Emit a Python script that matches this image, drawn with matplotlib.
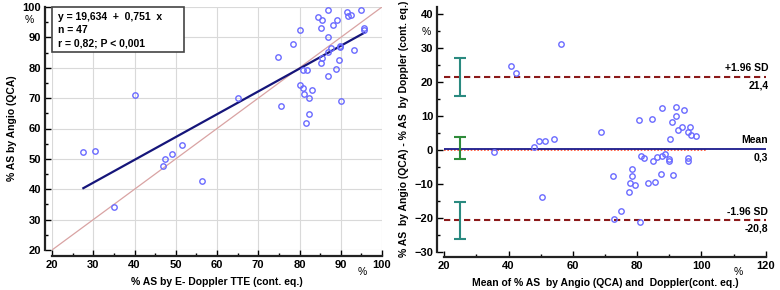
import matplotlib
matplotlib.use('Agg')
import matplotlib.pyplot as plt
from matplotlib.patches import Rectangle
import numpy as np

# left panel: % AS by Doppler (x) vs % AS by Angio (y)
doppler = [27.6, 30.5, 35.0, 47.0, 47.3, 49.2, 51.5, 56.4, 40.0, 65.0,
           74.8, 75.4, 78.5, 80.1, 80.0, 80.8, 81.8, 80.8, 81.1, 82.4,
           83.1, 82.4, 81.6, 84.5, 85.4, 85.2, 87.0, 88.2, 89.1, 86.9,
           87.6, 86.9, 85.5, 85.1, 89.5, 89.9, 89.7, 86.9, 88.9, 90.1,
           91.5, 91.7, 92.6, 94.8, 93.2, 95.7, 95.7]
angio = [52.1, 52.7, 34.3, 47.5, 49.8, 51.7, 54.6, 42.7, 70.9, 70.0,
         83.7, 67.5, 87.7, 92.4, 74.4, 79.1, 79.4, 73.3, 71.5, 70.0,
         72.6, 64.8, 61.8, 96.8, 95.6, 93.2, 98.9, 94.2, 95.8, 90.2,
         86.6, 85.2, 83.3, 81.7, 82.4, 86.8, 87.2, 77.4, 79.6, 69.1,
         98.2, 96.9, 97.4, 98.9, 85.9, 93.0, 92.4]
intercept = 19.634
slope = 0.751
stats_lines = ['y = 19,634  +  0,751  x', 'n = 47', 'r = 0,82; P < 0,001']

# right panel: Bland-Altman (mean, difference)
ba_mean = [40.8, 42.3, 56.4, 49.5, 51.2, 54.0, 47.9, 68.7, 80.7, 84.5,
           87.7, 92.1, 94.5, 92.1, 90.8, 92.7, 94.1, 96.4, 95.9, 96.8,
           98.4, 90.1, 35.4, 50.5, 81.2, 82.0, 84.8, 86.1, 87.6, 88.7,
           89.8, 89.9, 95.8, 95.8, 78.5, 78.3, 72.6, 87.5, 91.1, 77.7,
           79.2, 77.6, 83.5, 85.7, 74.9, 72.9, 81.0]
ba_diff = [24.5, 22.5, 30.9, 2.4, 2.4, 3.2, 0.8, 5.1, 8.8, 8.9,
           12.2, 12.4, 11.7, 9.9, 8.0, 5.8, 6.5, 6.5, 5.1, 4.4,
           3.9, 3.2, -0.6, -13.8, -1.8, -2.4, -3.4, -2.3, -1.9, -1.2,
           -2.7, -3.4, -2.6, -3.2, -5.7, -7.9, -7.9, -7.1, -7.4, -9.8,
           -10.5, -12.6, -9.7, -9.4, -17.9, -20.3, -21.3]
mean_diff = 0.3
upper_loa = 21.4
lower_loa = -20.8
upper_ci = (15.9, 26.8)
mean_ci = (-2.9, 3.6)
lower_ci = (-26.2, -15.3)

plt.rcParams['font.family'] = ['Liberation Sans', 'DejaVu Sans']
plt.rcParams['font.weight'] = 'bold'
plt.rcParams['axes.labelweight'] = 'bold'
plt.rcParams['font.size'] = 7.5

W, H = 780, 290
fig = plt.figure(figsize=(W / 100, H / 100), dpi=100)

pt_color = '#6b6bff'


def style_axes(ax):
    for s in ['top', 'right']:
        ax.spines[s].set_visible(False)
    ax.spines['left'].set_position(('outward', 5))
    ax.spines['bottom'].set_position(('outward', 4))
    for s in ['left', 'bottom']:
        ax.spines[s].set_linewidth(1.6)
        ax.spines[s].set_color('#222222')
    ax.tick_params(direction='in', length=4, width=1, pad=3, labelsize=8)
    ax.tick_params(which='minor', direction='in', length=2.5, width=1)


# ---- left panel: scatter + regression ----
ax1 = fig.add_axes([52 / W, 40 / H, 330 / W, 243 / H])
ax1.set_xlim(20, 100)
ax1.set_ylim(20, 100)
ax1.set_xticks(np.arange(20, 101, 10))
ax1.set_yticks(np.arange(20, 101, 10))
ax1.set_xticks(np.arange(25, 100, 10), minor=True)
ax1.set_yticks(np.arange(25, 100, 10), minor=True)
ax1.grid(True, color='#d9d9d9', linewidth=0.8)
ax1.set_axisbelow(True)
style_axes(ax1)

ax1.plot([20, 100], [20, 100], color='#d9a3a3', linewidth=0.9, zorder=2)
xr = np.array([min(doppler), max(doppler)])
ax1.plot(xr, intercept + slope * xr, color='#15157a', linewidth=1.6, zorder=3)
ax1.plot(doppler, angio, 'o', mfc='none', mec=pt_color, ms=3.9, mew=1.0, zorder=4)

# stats box
ax1.add_patch(Rectangle((0.0, 0.815), 0.4, 0.185, transform=ax1.transAxes,
                        fc='white', ec='#444444', lw=1.2, zorder=5, clip_on=False))
for i, line in enumerate(stats_lines):
    ax1.text(0.018, 0.958 - i * 0.054, line, transform=ax1.transAxes,
             ha='left', va='center', zorder=6)
ax1.set_xlabel('% AS by E- Doppler TTE (cont. eq.)', labelpad=5)
ax1.set_ylabel('% AS by Angio (QCA)', labelpad=4)
fig.text(29 / W, 1 - 20 / H, '%', ha='center', va='center', fontweight='normal')
fig.text(362 / W, 1 - 272 / H, '%', ha='center', va='center', fontweight='normal')

# ---- right panel: Bland-Altman ----
ax2 = fig.add_axes([444.3 / W, 38.3 / H, 321.4 / W, 245 / H])
ax2.set_xlim(20, 120)
ax2.set_ylim(-30, 42)
ax2.set_xticks(np.arange(20, 121, 20))
ax2.set_yticks(np.arange(-30, 41, 10))
ax2.set_xticks(np.arange(30, 120, 20), minor=True)
ax2.set_yticks(np.arange(-25, 41, 5), minor=True)
style_axes(ax2)

ax2.plot([20, 101.5], [0, 0], color='#ff4a2a', linestyle=(0, (1, 1)), linewidth=1.2, zorder=2)
ax2.axhline(mean_diff, color='#1a1a8c', linewidth=1.3, zorder=3)
ax2.axhline(upper_loa, color='#8b1a1a', linestyle=(0, (3, 1.8)), linewidth=1.5, zorder=3)
ax2.axhline(lower_loa, color='#8b1a1a', linestyle=(0, (3, 1.8)), linewidth=1.5, zorder=3)

for ci, col in [(upper_ci, '#2a8a80'), (mean_ci, '#2e8b3a'), (lower_ci, '#2a8a80')]:
    ax2.errorbar(25, (ci[0] + ci[1]) / 2, yerr=(ci[1] - ci[0]) / 2, color=col,
                 capsize=4, capthick=1.5, elinewidth=1.5, zorder=4)

ax2.plot(ba_mean, ba_diff, 'o', mfc='none', mec=pt_color, ms=3.9, mew=1.0, zorder=5)

for y, top, bottom in [(upper_loa, '+1.96 SD', '21,4'), (mean_diff, 'Mean', '0,3'),
                       (lower_loa, '-1.96 SD', '-20,8')]:
    ax2.annotate(top, (120.8, y), xytext=(0, 2.5), textcoords='offset points',
                 ha='right', va='bottom', annotation_clip=False)
    ax2.annotate(bottom, (120.8, y), xytext=(0, -2.5), textcoords='offset points',
                 ha='right', va='top', annotation_clip=False)

ax2.set_xlabel('Mean of % AS  by Angio (QCA) and  Doppler(cont. eq.)', labelpad=5)
ax2.set_ylabel('% AS  by Angio (QCA) - % AS  by Doppler (cont. eq.)', labelpad=4)
fig.text(426 / W, 1 - 32 / H, '%', ha='center', va='center', fontweight='normal')
fig.text(738 / W, 1 - 272 / H, '%', ha='center', va='center', fontweight='normal')

fig.savefig('out.png', dpi=100)
